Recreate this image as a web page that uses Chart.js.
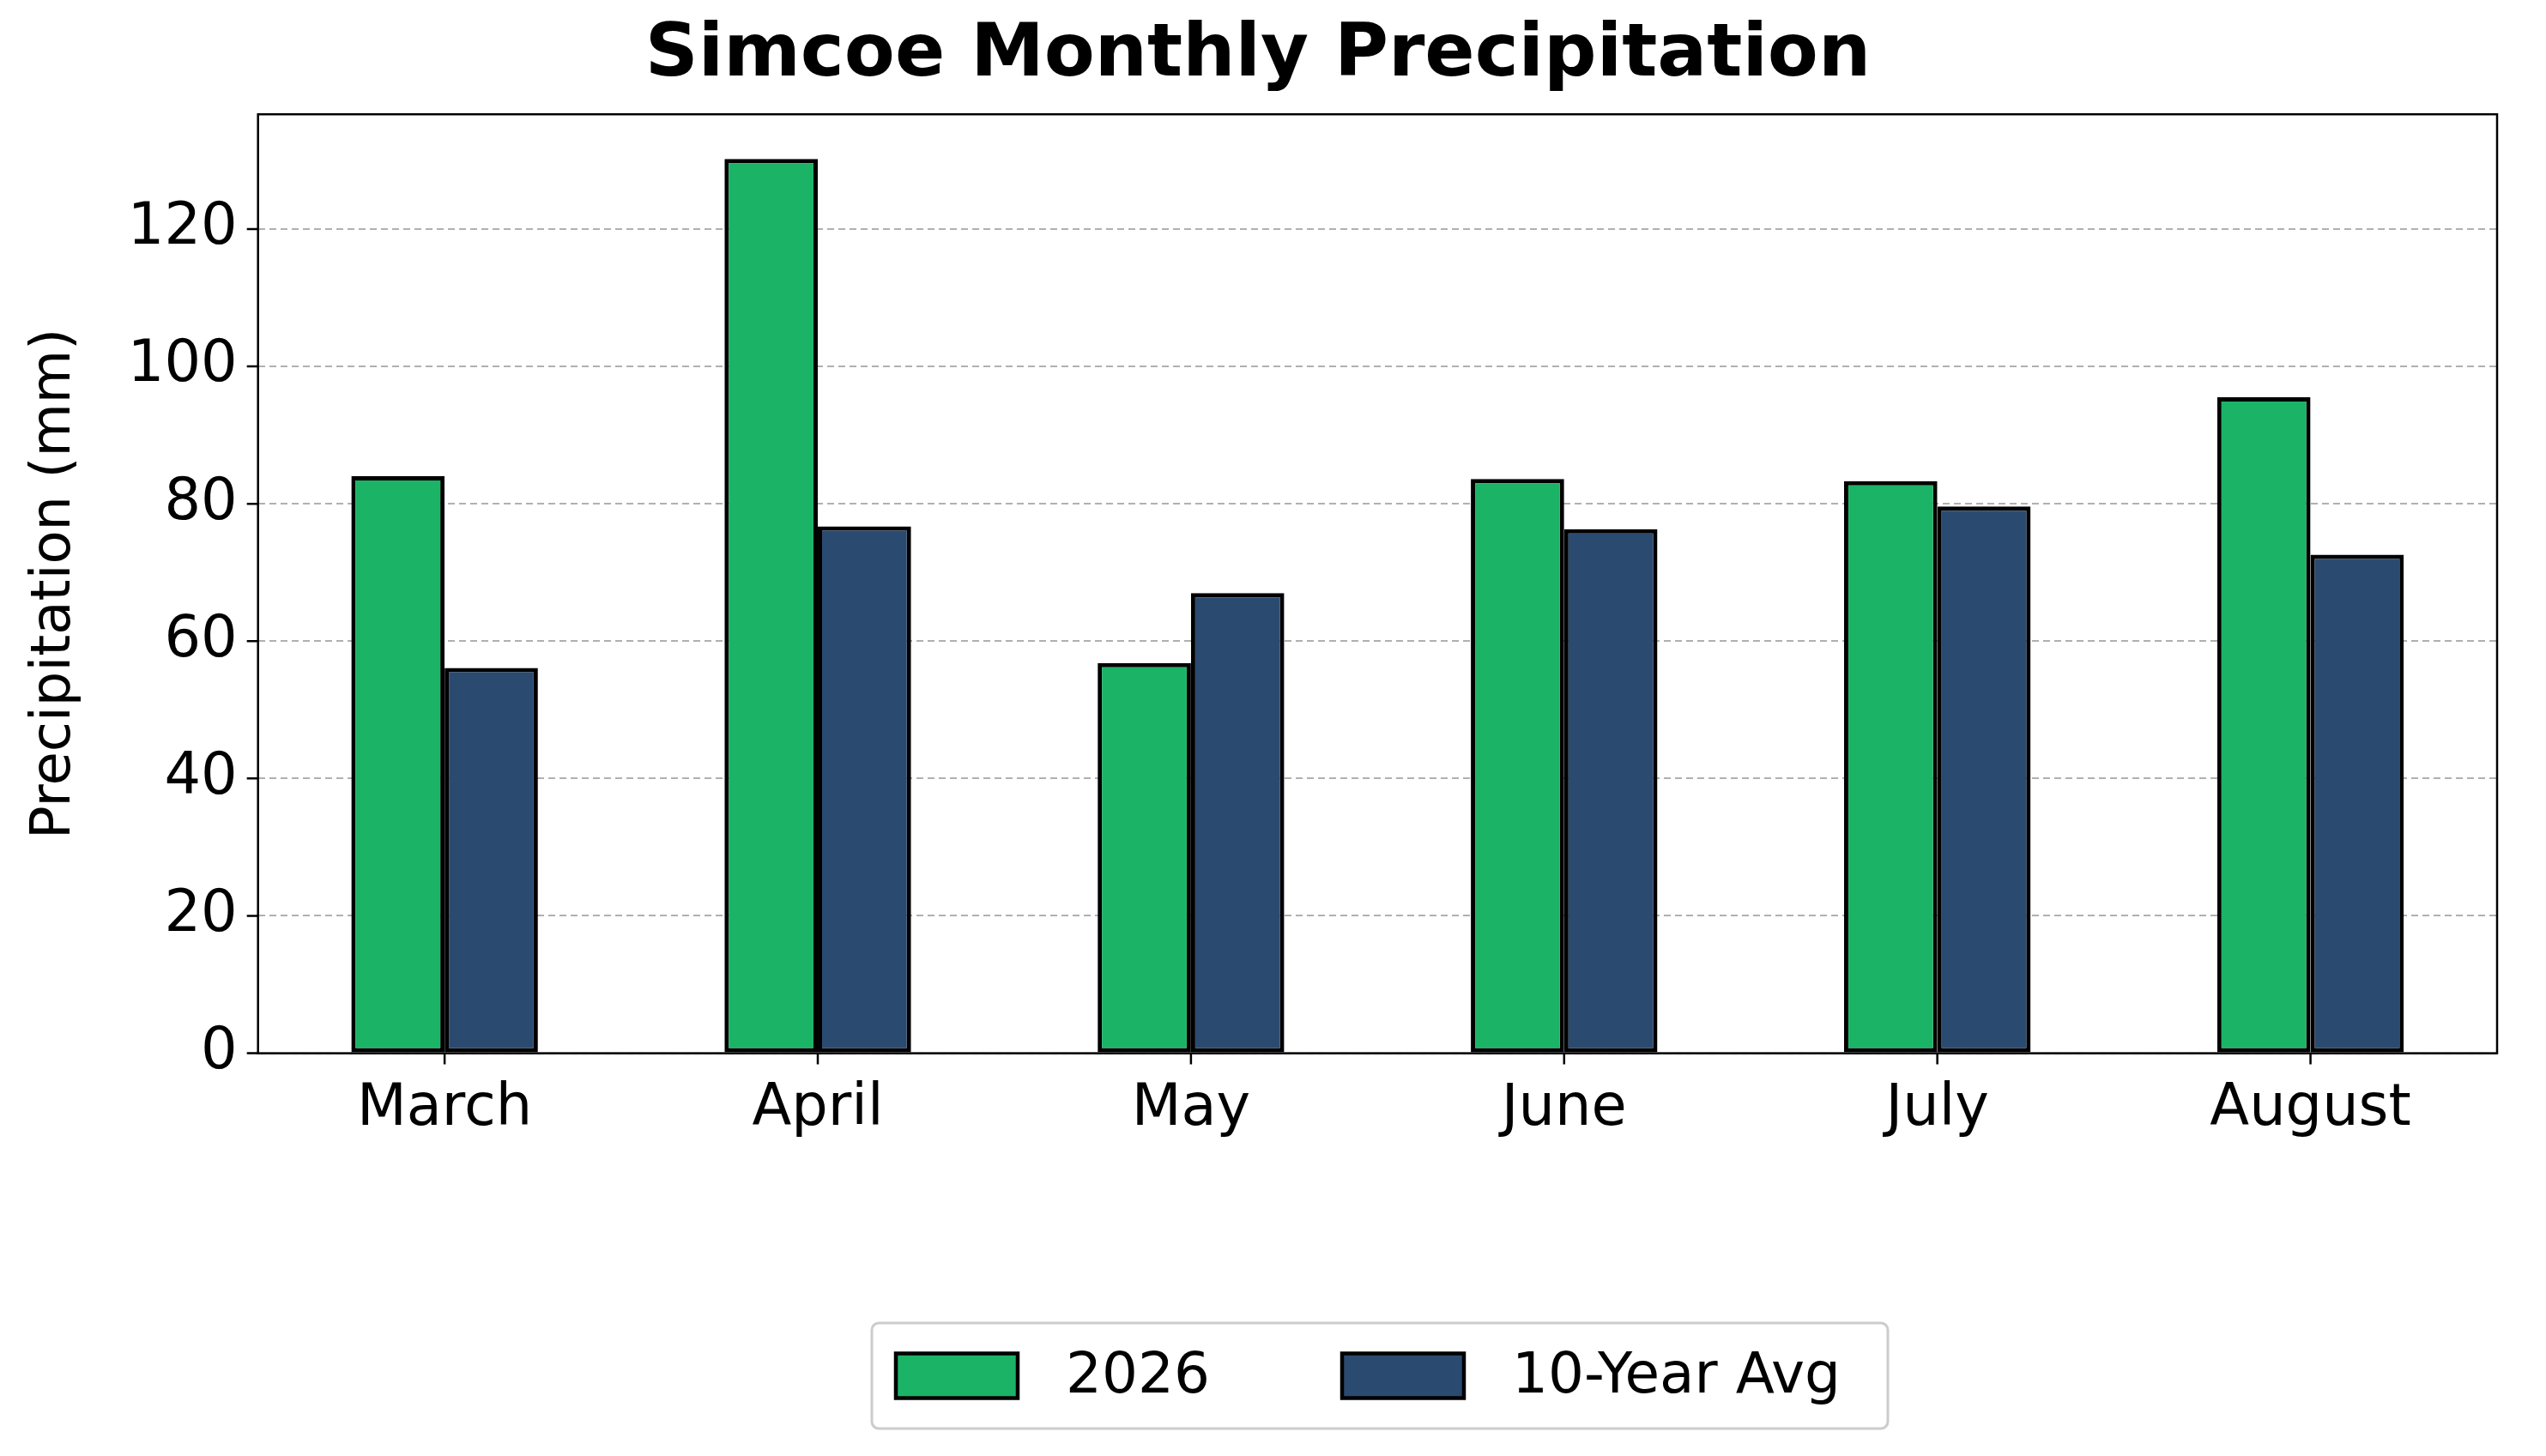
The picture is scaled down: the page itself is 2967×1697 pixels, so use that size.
<!DOCTYPE html>
<html><head><meta charset="utf-8">
<script src="https://cdn.jsdelivr.net/npm/chart.js@4"></script>
<style>html,body{margin:0;padding:0;background:#fff}#w{width:2967px;height:1697px}</style>
</head><body><div id="w"><canvas id="c"></canvas></div>
<script>
const months = ["March","April","May","June","July","August"];
const precip2026 = [84.0,130.2,56.8,83.6,83.3,95.5];
const avg10 = [56.1,76.7,67.0,76.3,79.6,72.6];
const seriesNames = ["2026","10-Year Avg"];
const yTicks = [0,20,40,60,80,100,120];
const colors = ["#1bb366","#2b4a70"];
const FONT = "'DejaVu Sans', sans-serif";

const framePlugin = {
  id:'frame',
  afterDraw(chart){
    const ctx = chart.ctx, a = chart.chartArea;
    ctx.save();
    ctx.strokeStyle='#000'; ctx.lineWidth=2.5;
    ctx.strokeRect(a.left,a.top,a.right-a.left,a.bottom-a.top);
    const ys = chart.scales.y, xs = chart.scales.x;
    ctx.beginPath();
    ys.ticks.forEach(t=>{const p=ys.getPixelForValue(t.value);ctx.moveTo(a.left-13,p);ctx.lineTo(a.left,p);});
    xs.ticks.forEach((t,i)=>{const p=xs.getPixelForValue(i);ctx.moveTo(p,a.bottom);ctx.lineTo(p,a.bottom+13);});
    ctx.stroke();
    const lx=1016, ly=1542, lw=1184, lh=123;
    ctx.fillStyle='#fff'; ctx.strokeStyle='#cccccc'; ctx.lineWidth=3;
    ctx.beginPath(); ctx.roundRect(lx,ly,lw,lh,8); ctx.fill(); ctx.stroke();
    ctx.font="66px "+FONT; ctx.textBaseline='middle'; ctx.fillStyle='#000';
    const cy=ly+lh/2;
    const items=[{x:1044,t:seriesNames[0],c:colors[0]},{x:1564,t:seriesNames[1],c:colors[1]}];
    items.forEach(it=>{
      ctx.fillStyle=it.c; ctx.fillRect(it.x,cy-26,142,52);
      ctx.strokeStyle='#000'; ctx.lineWidth=4.5; ctx.strokeRect(it.x,cy-26,142,52);
      ctx.fillStyle='#000'; ctx.fillText(it.t,it.x+198,cy+2);
    });
    ctx.restore();
  }
};

new Chart(document.getElementById('c'),{
  type:'bar',
  data:{labels:months,datasets:[
    {label:seriesNames[0],data:precip2026,backgroundColor:colors[0],borderColor:'#000',borderWidth:5,borderSkipped:false},
    {label:seriesNames[1],data:avg10,backgroundColor:colors[1],borderColor:'#000',borderWidth:5,borderSkipped:false}
  ]},
  options:{
    responsive:true,maintainAspectRatio:false,animation:false,devicePixelRatio:1,
    layout:{padding:{left:22,right:57,top:14,bottom:345}},
    datasets:{bar:{categoryPercentage:0.5,barPercentage:1}},
    plugins:{
      legend:{display:false},tooltip:{enabled:false},
      title:{display:true,text:'Simcoe Monthly Precipitation',color:'#000',font:{family:FONT,size:86,weight:'bold'},padding:{top:0,bottom:16}}
    },
    scales:{
      x:{grid:{display:false},border:{display:false},ticks:{color:'#000',font:{family:FONT,size:67},padding:18}},
      y:{min:0,max:136.7,
        afterBuildTicks(s){s.ticks=yTicks.map(v=>({value:v}));},
        grid:{color:'#b0b0b0',lineWidth:2,tickLength:0,drawTicks:false},
        border:{display:false,dash:[8,5]},
        ticks:{color:'#000',font:{family:FONT,size:67},padding:24},
        title:{display:true,text:'Precipitation (mm)',color:'#000',font:{family:FONT,size:64},padding:{bottom:22}}}
    }
  },
  plugins:[framePlugin]
});
</script></body></html>
